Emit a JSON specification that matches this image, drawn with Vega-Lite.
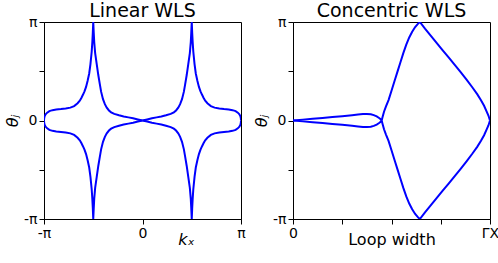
{
  "$schema": "https://vega.github.io/schema/vega-lite/v6.json",
  "padding": {"left": 4, "top": 1, "right": 0, "bottom": 0},
  "background": "white",
  "datasets": {
    "lin": [
      {"k":-3.1416,"t":0,"s":"a"},{"k":-3.135,"t":0.08,"s":"a"},{"k":-3.12,"t":0.14,"s":"a"},{"k":-3.09,"t":0.2,"s":"a"},{"k":-3.04,"t":0.25,"s":"a"},{"k":-2.97,"t":0.3,"s":"a"},{"k":-2.87,"t":0.33,"s":"a"},{"k":-2.75,"t":0.35,"s":"a"},{"k":-2.6,"t":0.365,"s":"a"},{"k":-2.45,"t":0.385,"s":"a"},{"k":-2.3,"t":0.41,"s":"a"},{"k":-2.18,"t":0.46,"s":"a"},{"k":-2.07,"t":0.55,"s":"a"},{"k":-2.0,"t":0.63,"s":"a"},{"k":-1.95,"t":0.72,"s":"a"},{"k":-1.9,"t":0.82,"s":"a"},{"k":-1.85,"t":0.93,"s":"a"},{"k":-1.8,"t":1.07,"s":"a"},{"k":-1.75,"t":1.27,"s":"a"},{"k":-1.7,"t":1.5,"s":"a"},{"k":-1.66,"t":1.8,"s":"a"},{"k":-1.62,"t":2.2,"s":"a"},{"k":-1.6,"t":2.5,"s":"a"},{"k":-1.585,"t":2.8,"s":"a"},{"k":-1.5708,"t":3.1416,"s":"a"},{"k":-1.555,"t":2.8,"s":"a"},{"k":-1.54,"t":2.5,"s":"a"},{"k":-1.51,"t":2.15,"s":"a"},{"k":-1.46,"t":1.8,"s":"a"},{"k":-1.41,"t":1.45,"s":"a"},{"k":-1.36,"t":1.15,"s":"a"},{"k":-1.32,"t":0.92,"s":"a"},{"k":-1.26,"t":0.68,"s":"a"},{"k":-1.2,"t":0.52,"s":"a"},{"k":-1.14,"t":0.41,"s":"a"},{"k":-1.07,"t":0.32,"s":"a"},{"k":-1.0,"t":0.26,"s":"a"},{"k":-0.9,"t":0.21,"s":"a"},{"k":-0.75,"t":0.165,"s":"a"},{"k":-0.6,"t":0.13,"s":"a"},{"k":-0.45,"t":0.1,"s":"a"},{"k":-0.3,"t":0.07,"s":"a"},{"k":-0.15,"t":0.035,"s":"a"},{"k":0,"t":0,"s":"a"},
      {"k":3.1416,"t":0,"s":"b"},{"k":3.135,"t":0.08,"s":"b"},{"k":3.12,"t":0.14,"s":"b"},{"k":3.09,"t":0.2,"s":"b"},{"k":3.04,"t":0.25,"s":"b"},{"k":2.97,"t":0.3,"s":"b"},{"k":2.87,"t":0.33,"s":"b"},{"k":2.75,"t":0.35,"s":"b"},{"k":2.6,"t":0.365,"s":"b"},{"k":2.45,"t":0.385,"s":"b"},{"k":2.3,"t":0.41,"s":"b"},{"k":2.18,"t":0.46,"s":"b"},{"k":2.07,"t":0.55,"s":"b"},{"k":2.0,"t":0.63,"s":"b"},{"k":1.95,"t":0.72,"s":"b"},{"k":1.9,"t":0.82,"s":"b"},{"k":1.85,"t":0.93,"s":"b"},{"k":1.8,"t":1.07,"s":"b"},{"k":1.75,"t":1.27,"s":"b"},{"k":1.7,"t":1.5,"s":"b"},{"k":1.66,"t":1.8,"s":"b"},{"k":1.62,"t":2.2,"s":"b"},{"k":1.6,"t":2.5,"s":"b"},{"k":1.585,"t":2.8,"s":"b"},{"k":1.5708,"t":3.1416,"s":"b"},{"k":1.555,"t":2.8,"s":"b"},{"k":1.54,"t":2.5,"s":"b"},{"k":1.51,"t":2.15,"s":"b"},{"k":1.46,"t":1.8,"s":"b"},{"k":1.41,"t":1.45,"s":"b"},{"k":1.36,"t":1.15,"s":"b"},{"k":1.32,"t":0.92,"s":"b"},{"k":1.26,"t":0.68,"s":"b"},{"k":1.2,"t":0.52,"s":"b"},{"k":1.14,"t":0.41,"s":"b"},{"k":1.07,"t":0.32,"s":"b"},{"k":1.0,"t":0.26,"s":"b"},{"k":0.9,"t":0.21,"s":"b"},{"k":0.75,"t":0.165,"s":"b"},{"k":0.6,"t":0.13,"s":"b"},{"k":0.45,"t":0.1,"s":"b"},{"k":0.3,"t":0.07,"s":"b"},{"k":0.15,"t":0.035,"s":"b"},{"k":0,"t":0,"s":"b"},
      {"k":-3.1416,"t":0,"s":"c"},{"k":-3.135,"t":-0.08,"s":"c"},{"k":-3.12,"t":-0.14,"s":"c"},{"k":-3.09,"t":-0.2,"s":"c"},{"k":-3.04,"t":-0.25,"s":"c"},{"k":-2.97,"t":-0.3,"s":"c"},{"k":-2.87,"t":-0.33,"s":"c"},{"k":-2.75,"t":-0.35,"s":"c"},{"k":-2.6,"t":-0.365,"s":"c"},{"k":-2.45,"t":-0.385,"s":"c"},{"k":-2.3,"t":-0.41,"s":"c"},{"k":-2.18,"t":-0.46,"s":"c"},{"k":-2.07,"t":-0.55,"s":"c"},{"k":-2.0,"t":-0.63,"s":"c"},{"k":-1.95,"t":-0.72,"s":"c"},{"k":-1.9,"t":-0.82,"s":"c"},{"k":-1.85,"t":-0.93,"s":"c"},{"k":-1.8,"t":-1.07,"s":"c"},{"k":-1.75,"t":-1.27,"s":"c"},{"k":-1.7,"t":-1.5,"s":"c"},{"k":-1.66,"t":-1.8,"s":"c"},{"k":-1.62,"t":-2.2,"s":"c"},{"k":-1.6,"t":-2.5,"s":"c"},{"k":-1.585,"t":-2.8,"s":"c"},{"k":-1.5708,"t":-3.1416,"s":"c"},{"k":-1.555,"t":-2.8,"s":"c"},{"k":-1.54,"t":-2.5,"s":"c"},{"k":-1.51,"t":-2.15,"s":"c"},{"k":-1.46,"t":-1.8,"s":"c"},{"k":-1.41,"t":-1.45,"s":"c"},{"k":-1.36,"t":-1.15,"s":"c"},{"k":-1.32,"t":-0.92,"s":"c"},{"k":-1.26,"t":-0.68,"s":"c"},{"k":-1.2,"t":-0.52,"s":"c"},{"k":-1.14,"t":-0.41,"s":"c"},{"k":-1.07,"t":-0.32,"s":"c"},{"k":-1.0,"t":-0.26,"s":"c"},{"k":-0.9,"t":-0.21,"s":"c"},{"k":-0.75,"t":-0.165,"s":"c"},{"k":-0.6,"t":-0.13,"s":"c"},{"k":-0.45,"t":-0.1,"s":"c"},{"k":-0.3,"t":-0.07,"s":"c"},{"k":-0.15,"t":-0.035,"s":"c"},{"k":0,"t":0,"s":"c"},
      {"k":3.1416,"t":0,"s":"d"},{"k":3.135,"t":-0.08,"s":"d"},{"k":3.12,"t":-0.14,"s":"d"},{"k":3.09,"t":-0.2,"s":"d"},{"k":3.04,"t":-0.25,"s":"d"},{"k":2.97,"t":-0.3,"s":"d"},{"k":2.87,"t":-0.33,"s":"d"},{"k":2.75,"t":-0.35,"s":"d"},{"k":2.6,"t":-0.365,"s":"d"},{"k":2.45,"t":-0.385,"s":"d"},{"k":2.3,"t":-0.41,"s":"d"},{"k":2.18,"t":-0.46,"s":"d"},{"k":2.07,"t":-0.55,"s":"d"},{"k":2.0,"t":-0.63,"s":"d"},{"k":1.95,"t":-0.72,"s":"d"},{"k":1.9,"t":-0.82,"s":"d"},{"k":1.85,"t":-0.93,"s":"d"},{"k":1.8,"t":-1.07,"s":"d"},{"k":1.75,"t":-1.27,"s":"d"},{"k":1.7,"t":-1.5,"s":"d"},{"k":1.66,"t":-1.8,"s":"d"},{"k":1.62,"t":-2.2,"s":"d"},{"k":1.6,"t":-2.5,"s":"d"},{"k":1.585,"t":-2.8,"s":"d"},{"k":1.5708,"t":-3.1416,"s":"d"},{"k":1.555,"t":-2.8,"s":"d"},{"k":1.54,"t":-2.5,"s":"d"},{"k":1.51,"t":-2.15,"s":"d"},{"k":1.46,"t":-1.8,"s":"d"},{"k":1.41,"t":-1.45,"s":"d"},{"k":1.36,"t":-1.15,"s":"d"},{"k":1.32,"t":-0.92,"s":"d"},{"k":1.26,"t":-0.68,"s":"d"},{"k":1.2,"t":-0.52,"s":"d"},{"k":1.14,"t":-0.41,"s":"d"},{"k":1.07,"t":-0.32,"s":"d"},{"k":1.0,"t":-0.26,"s":"d"},{"k":0.9,"t":-0.21,"s":"d"},{"k":0.75,"t":-0.165,"s":"d"},{"k":0.6,"t":-0.13,"s":"d"},{"k":0.45,"t":-0.1,"s":"d"},{"k":0.3,"t":-0.07,"s":"d"},{"k":0.15,"t":-0.035,"s":"d"},{"k":0,"t":0,"s":"d"}
    ],
    "con": [
      {"w":0,"t":0,"s":"a"},{"w":0.05,"t":0.028,"s":"a"},{"w":0.1,"t":0.055,"s":"a"},{"w":0.15,"t":0.083,"s":"a"},{"w":0.2,"t":0.11,"s":"a"},{"w":0.25,"t":0.138,"s":"a"},{"w":0.3,"t":0.168,"s":"a"},{"w":0.33,"t":0.19,"s":"a"},{"w":0.355,"t":0.205,"s":"a"},{"w":0.375,"t":0.21,"s":"a"},{"w":0.395,"t":0.2,"s":"a"},{"w":0.41,"t":0.17,"s":"a"},{"w":0.425,"t":0.13,"s":"a"},{"w":0.437,"t":0.08,"s":"a"},{"w":0.445,"t":0.04,"s":"a"},{"w":0.45,"t":0,"s":"a"},
      {"w":0,"t":0,"s":"c"},{"w":0.05,"t":-0.028,"s":"c"},{"w":0.1,"t":-0.055,"s":"c"},{"w":0.15,"t":-0.083,"s":"c"},{"w":0.2,"t":-0.11,"s":"c"},{"w":0.25,"t":-0.138,"s":"c"},{"w":0.3,"t":-0.168,"s":"c"},{"w":0.33,"t":-0.19,"s":"c"},{"w":0.355,"t":-0.205,"s":"c"},{"w":0.375,"t":-0.21,"s":"c"},{"w":0.395,"t":-0.2,"s":"c"},{"w":0.41,"t":-0.17,"s":"c"},{"w":0.425,"t":-0.13,"s":"c"},{"w":0.437,"t":-0.08,"s":"c"},{"w":0.445,"t":-0.04,"s":"c"},{"w":0.45,"t":0,"s":"c"},
      {"w":0.45,"t":0,"s":"b"},{"w":0.455,"t":0.12,"s":"b"},{"w":0.462,"t":0.28,"s":"b"},{"w":0.472,"t":0.45,"s":"b"},{"w":0.485,"t":0.65,"s":"b"},{"w":0.5,"t":0.95,"s":"b"},{"w":0.515,"t":1.25,"s":"b"},{"w":0.53,"t":1.55,"s":"b"},{"w":0.545,"t":1.85,"s":"b"},{"w":0.56,"t":2.15,"s":"b"},{"w":0.575,"t":2.42,"s":"b"},{"w":0.59,"t":2.65,"s":"b"},{"w":0.605,"t":2.83,"s":"b"},{"w":0.62,"t":2.98,"s":"b"},{"w":0.635,"t":3.09,"s":"b"},{"w":0.644,"t":3.1416,"s":"b"},{"w":0.67,"t":2.93,"s":"b"},{"w":0.7,"t":2.7,"s":"b"},{"w":0.73,"t":2.47,"s":"b"},{"w":0.76,"t":2.24,"s":"b"},{"w":0.79,"t":2.01,"s":"b"},{"w":0.82,"t":1.78,"s":"b"},{"w":0.85,"t":1.55,"s":"b"},{"w":0.88,"t":1.31,"s":"b"},{"w":0.91,"t":1.06,"s":"b"},{"w":0.935,"t":0.84,"s":"b"},{"w":0.955,"t":0.64,"s":"b"},{"w":0.97,"t":0.47,"s":"b"},{"w":0.982,"t":0.3,"s":"b"},{"w":0.992,"t":0.16,"s":"b"},{"w":1.0,"t":0,"s":"b"},
      {"w":0.45,"t":0,"s":"d"},{"w":0.455,"t":-0.12,"s":"d"},{"w":0.462,"t":-0.28,"s":"d"},{"w":0.472,"t":-0.45,"s":"d"},{"w":0.485,"t":-0.65,"s":"d"},{"w":0.5,"t":-0.95,"s":"d"},{"w":0.515,"t":-1.25,"s":"d"},{"w":0.53,"t":-1.55,"s":"d"},{"w":0.545,"t":-1.85,"s":"d"},{"w":0.56,"t":-2.15,"s":"d"},{"w":0.575,"t":-2.42,"s":"d"},{"w":0.59,"t":-2.65,"s":"d"},{"w":0.605,"t":-2.83,"s":"d"},{"w":0.62,"t":-2.98,"s":"d"},{"w":0.635,"t":-3.09,"s":"d"},{"w":0.644,"t":-3.1416,"s":"d"},{"w":0.67,"t":-2.93,"s":"d"},{"w":0.7,"t":-2.7,"s":"d"},{"w":0.73,"t":-2.47,"s":"d"},{"w":0.76,"t":-2.24,"s":"d"},{"w":0.79,"t":-2.01,"s":"d"},{"w":0.82,"t":-1.78,"s":"d"},{"w":0.85,"t":-1.55,"s":"d"},{"w":0.88,"t":-1.31,"s":"d"},{"w":0.91,"t":-1.06,"s":"d"},{"w":0.935,"t":-0.84,"s":"d"},{"w":0.955,"t":-0.64,"s":"d"},{"w":0.97,"t":-0.47,"s":"d"},{"w":0.982,"t":-0.3,"s":"d"},{"w":0.992,"t":-0.16,"s":"d"},{"w":1.0,"t":0,"s":"d"}
    ]
  },
  "config": {
    "view": {"stroke": "#000", "strokeWidth": 1},
    "axis": {
      "domainColor": "#000", "tickColor": "#000", "labelColor": "#000", "titleColor": "#000",
      "labelFont": "DejaVu Sans", "titleFont": "DejaVu Sans",
      "labelFontSize": 14, "titleFontSize": 16, "titleFontWeight": "normal",
      "tickSize": 5, "labelPadding": 2, "grid": false,
      "labelFlush": false, "labelOverlap": false, "labelBound": false
    },
    "title": {"font": "DejaVu Sans", "fontSize": 19, "fontWeight": "normal", "color": "#000", "offset": -6, "frame": "group"}
  },
  "bounds": "flush",
  "spacing": 52,
  "hconcat": [
    {
      "width": 197, "height": 197,
      "title": "Linear WLS",
      "data": {"name": "lin"},
      "mark": {"type": "line", "color": "#0000ff", "strokeWidth": 2, "clip": true},
      "encoding": {
        "x": {"field": "k", "type": "quantitative",
              "scale": {"domain": [-3.14159265, 3.14159265], "nice": false, "zero": false},
              "axis": {"values": [-3.14159265, 0, 3.14159265],
                       "labelExpr": "datum.value < -1 ? '-π' : (datum.value > 1 ? 'π' : '0')",
                       "title": "kₓ", "titleFontStyle": "italic", "titleX": 142, "titlePadding": -9}},
        "y": {"field": "t", "type": "quantitative",
              "scale": {"domain": [-3.14159265, 3.14159265], "nice": false, "zero": false},
              "axis": {"values": [-3.14159265, -1.5707963, 0, 1.5707963, 3.14159265],
                       "labelExpr": "abs(datum.value) < 0.1 ? '0' : (datum.value > 3 ? 'π' : (datum.value < -3 ? '-π' : ''))",
                       "title": "θⱼ", "titleFontStyle": "italic", "titlePadding": 3}},
        "detail": {"field": "s"},
        "order": {"field": "k", "type": "quantitative"}
      }
    },
    {
      "width": 197, "height": 197,
      "title": "Concentric WLS",
      "data": {"name": "con"},
      "mark": {"type": "line", "color": "#0000ff", "strokeWidth": 2, "clip": true},
      "encoding": {
        "x": {"field": "w", "type": "quantitative",
              "scale": {"domain": [0, 1], "nice": false},
              "axis": {"values": [0, 0.25, 0.5, 0.75, 1],
                       "labelExpr": "datum.value < 0.1 ? '0' : (datum.value > 0.9 ? 'ΓX' : '')",
                       "title": "Loop width", "titlePadding": -9}},
        "y": {"field": "t", "type": "quantitative",
              "scale": {"domain": [-3.14159265, 3.14159265], "nice": false, "zero": false},
              "axis": {"values": [-3.14159265, -1.5707963, 0, 1.5707963, 3.14159265],
                       "labelExpr": "abs(datum.value) < 0.1 ? '0' : (datum.value > 3 ? 'π' : (datum.value < -3 ? '-π' : ''))",
                       "title": "θⱼ", "titleFontStyle": "italic", "titlePadding": 3}},
        "detail": {"field": "s"},
        "order": {"field": "w", "type": "quantitative"}
      }
    }
  ]
}
